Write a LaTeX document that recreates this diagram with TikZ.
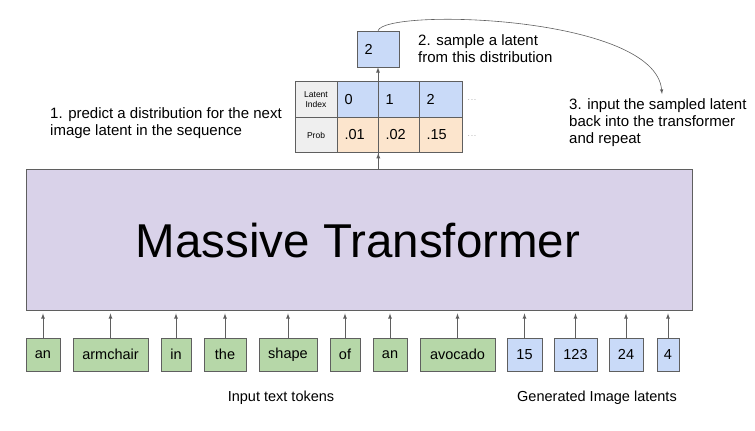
\documentclass[tikz,border=0pt]{standalone}
\usepackage{xcolor}
\usepackage{tikz}
\usetikzlibrary{calc,shapes,positioning}
\usetikzlibrary{arrows}
\usepackage{fontspec}
\setmainfont{Liberation Sans}

\definecolor{tokgreen}{HTML}{B6D7A8}
\definecolor{latblue}{HTML}{C9DAF8}
\definecolor{tfpurple}{HTML}{D9D2E9}
\definecolor{probpeach}{HTML}{FCE5CD}
\definecolor{cellgray}{HTML}{EFEFEF}
\definecolor{edgegray}{HTML}{5F5F5F}

\begin{document}
\begin{tikzpicture}[x=1pt,y=-1pt]
      \useasboundingbox (0,0) rectangle (755,431);
      \tikzstyle{tnode} = [draw=edgegray, line width=0.8pt, fill=tokgreen, minimum height=33pt, inner sep=0pt, font=\fontsize{14.5}{17}\selectfont]
      \tikzstyle{lnode} = [tnode, fill=latblue]
      \tikzstyle{cell} = [draw=edgegray, line width=0.6pt, minimum height=35.5pt, inner xsep=7.5pt, inner ysep=0pt, text width=26pt, align=left, font=\fontsize{14.5}{17}\selectfont]
      \tikzstyle{hcell} = [cell, fill=cellgray, text width=27pt, inner xsep=7.5pt, align=center, font=\fontsize{8.5}{10}\selectfont]
      \tikzstyle{note} = [align=left, inner sep=0pt, font=\fontsize{15}{17}\selectfont]
      \tikzstyle{arr} = [-latex, draw=edgegray, line width=0.8pt]

      % transformer
      \node[draw=edgegray, line width=0.8pt, fill=tfpurple, minimum width=666pt, minimum height=141pt] (mt) at (359, 239.5) {};
      \node[anchor=base, font=\fontsize{47.5}{50}\selectfont] (mtlabel) at (358, 257) {Massive Transformer};

      % text tokens
      \node[tnode, minimum width=34pt] (an1) at (43, 354.5) {an};
      \node[tnode, minimum width=75pt] (armchair) at (110.5, 354.5) {armchair};
      \node[tnode, minimum width=30pt] (in) at (176, 354.5) {in};
      \node[tnode, minimum width=42pt] (the) at (225, 354.5) {the};
      \node[tnode, minimum width=58pt] (shape) at (288, 354.5) {shape};
      \node[tnode, minimum width=30pt] (of) at (345, 354.5) {of};
      \node[tnode, minimum width=34pt] (an2) at (390, 354.5) {an};
      \node[tnode, minimum width=75pt] (avocado) at (457.5, 354.5) {avocado};

      % image latents
      \node[lnode, minimum width=35pt] (l15) at (524.5, 354.5) {15};
      \node[lnode, minimum width=43pt] (l123) at (575.5, 354.5) {123};
      \node[lnode, minimum width=34pt] (l24) at (626, 354.5) {24};
      \node[lnode, minimum width=22pt] (l4) at (668, 354.5) {4};

      \node[inner sep=0pt, font=\fontsize{14.5}{17}\selectfont] (txtlabel) at (281, 398) {Input text tokens};
      \node[inner sep=0pt, font=\fontsize{14.5}{17}\selectfont] (latlabel) at (597, 398) {Generated Image latents};

      % distribution table
      \node[hcell] (lidx) at (316, 99.5) {Latent\\Index};
      \node[cell, fill=latblue] (lat0) at (357.5, 99.5) {0};
      \node[cell, fill=latblue] (lat1) at (398.5, 99.5) {1};
      \node[cell, fill=latblue, text width=28pt] (lat2) at (440.5, 99.5) {2};
      \node[hcell] (prob) at (316, 135) {Prob};
      \node[cell, fill=probpeach] (pr0) at (357.5, 135) {.01};
      \node[cell, fill=probpeach] (pr1) at (398.5, 135) {.02};
      \node[cell, fill=probpeach, text width=28pt] (pr2) at (440.5, 135) {.15};
      \node[text=gray, font=\fontsize{7}{8}\selectfont] (dots1) at (472, 100.5) {.\,.\,.};
      \node[text=gray, font=\fontsize{7}{8}\selectfont] (dots2) at (472, 136.5) {.\,.\,.};

      % sampled latent
      \node[cell, fill=latblue, minimum height=36pt, text width=27pt] (b2) at (378, 49) {2};

      % notes
      \node[note, anchor=west] (step1) at (50, 123.5) {1. predict a distribution for the next\\image latent in the sequence};
      \node[note, anchor=west] (step2) at (418, 48.5) {2. sample a latent\\from this distribution};
      \node[note, anchor=west] (step3) at (569, 123) {3. input the sampled latent\\back into the transformer\\and repeat};
      \coordinate (back) at (662, 94);

      % connections
      \foreach \t in {an1,armchair,in,the,shape,of,an2,avocado,l15,l123,l24,l4}
        \draw[arr, shorten >=3pt] (\t.north) -- (\t.north |- mt.south);

      \draw[arr] (mt.north -| pr0.south east) -- (pr0.south east);
      \draw[arr] (mt.north -| b2.south) -- (b2.south);
      \draw[arr, line width=0.6pt] (b2.north) .. controls (385, 8) and (655, 15) .. (back);
    \end{tikzpicture}
\end{document}
